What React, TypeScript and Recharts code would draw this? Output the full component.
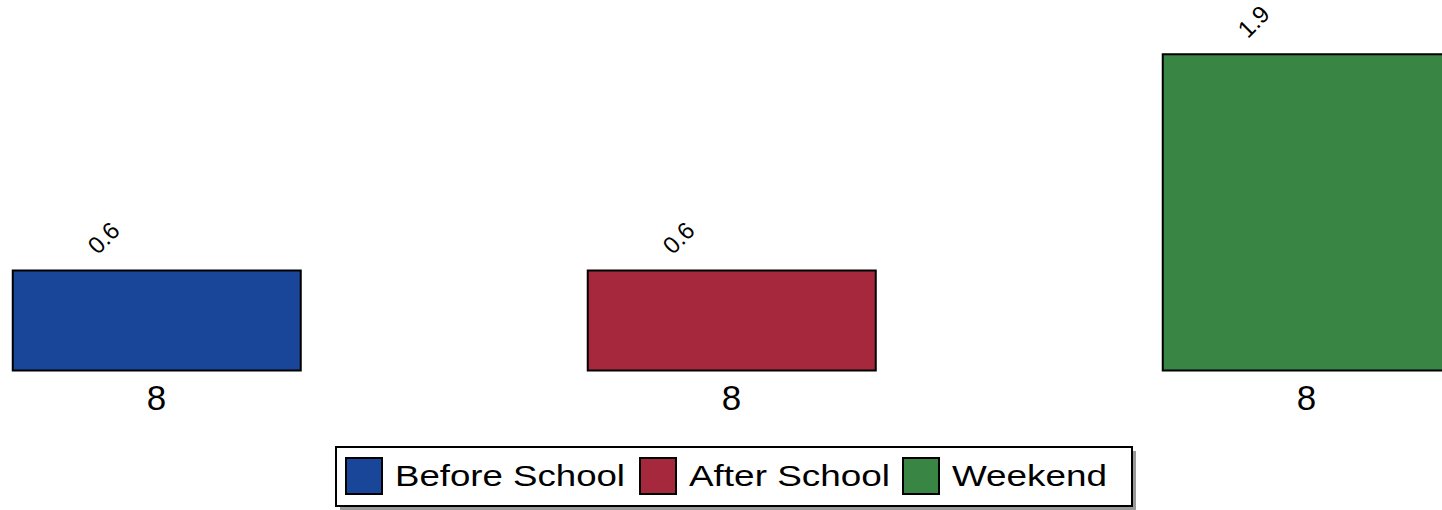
import { BarChart, Bar, XAxis, YAxis, Legend, LabelList } from 'recharts';

const categories = ['8', '8', '8'];
const seriesNames = ['Before School', 'After School', 'Weekend'];
const seriesKeys = ['before', 'after', 'weekend'];
const seriesColors = ['#1a469a', '#a5283c', '#398543'];
const beforeSchool = [0.6];
const afterSchool = [0.6];
const weekend = [1.9];
const yDomain = [0, 2];

const seriesValues = [beforeSchool, afterSchool, weekend];

// one row per panel, only its own series filled
const data = categories.map((name, i) => {
  const row: { [key: string]: string | number } = { name };
  row[seriesKeys[i]] = seriesValues[i][0];
  return row;
});

// legend layout: square left, text left, text length (px inside the box)
const legendItems = [
  { sq: 10, tx: 60, len: 230 },
  { sq: 304, tx: 354, len: 201 },
  { sq: 567, tx: 617, len: 155 },
];

function ValueLabel(props: any) {
  const vb = props.viewBox ?? props;
  const { x, y, width } = vb;
  if (props.value === undefined || props.value === null) return null;
  const lx = x + width * 0.295;
  const ly = y - 15;
  return (
    <text
      x={lx}
      y={ly}
      transform={`rotate(-45 ${lx} ${ly})`}
      textAnchor="start"
      fontSize={24}
      fontFamily="'Liberation Sans', Arial, sans-serif"
      fill="#000"
    >
      {Number(props.value).toFixed(1)}
    </text>
  );
}

function LegendBox() {
  return (
    <svg width={802} height={66} style={{ display: 'block' }}>
      <rect x={5} y={5} width={796} height={59} fill="#999" />
      <rect x={1} y={1} width={796} height={59} fill="#fff" stroke="#000" strokeWidth={2} />
      {legendItems.map((it, i) => (
        <g key={seriesKeys[i]}>
          <rect x={it.sq + 1} y={12} width={36} height={36} fill={seriesColors[i]} stroke="#000" strokeWidth={2} />
          <text
            x={it.tx}
            y={40}
            fontSize={30}
            fontFamily="'Liberation Sans', Arial, sans-serif"
            textLength={it.len}
            lengthAdjust="spacingAndGlyphs"
            fill="#000"
          >
            {seriesNames[i]}
          </text>
        </g>
      ))}
    </svg>
  );
}

export default function App() {
  return (
    <div style={{ position: 'absolute', left: 0, top: 0, width: 1442, height: 510, overflow: 'hidden', background: '#fff' }}>
      <div style={{ position: 'absolute', left: -131.5, top: 0 }}>
        <BarChart
          width={1725}
          height={510}
          data={data}
          margin={{ top: 37.5, right: 0, left: 0, bottom: 89.5 }}
          barCategoryGap="25%"
        >
          <XAxis
            dataKey="name"
            height={50}
            axisLine={false}
            tickLine={false}
            tickSize={0}
            tickMargin={15}
            tick={{ fill: '#000', fontSize: 35, fontFamily: "'Liberation Sans', Arial, sans-serif" }}
          />
          <YAxis hide domain={yDomain} />
          <Legend
            layout="horizontal"
            verticalAlign="middle"
            align="center"
            wrapperStyle={{ left: 466.5, top: 446, width: 802, height: 66 }}
            content={() => <LegendBox />}
          />
          {seriesKeys.map((key, i) => (
            <Bar
              key={key}
              dataKey={key}
              name={seriesNames[i]}
              stackId="a"
              fill={seriesColors[i]}
              stroke="#000"
              strokeWidth={2}
              isAnimationActive={false}
            >
              <LabelList dataKey={key} content={ValueLabel} />
            </Bar>
          ))}
        </BarChart>
      </div>
    </div>
  );
}
